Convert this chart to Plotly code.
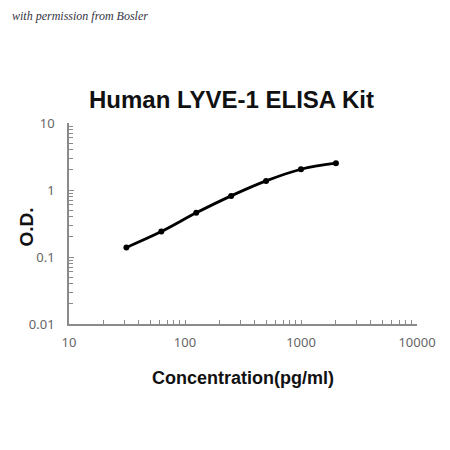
import plotly.graph_objects as go

# Standard curve data
conc = [31.25, 62.5, 125, 250, 500, 1000, 2000]
od = [0.139, 0.240, 0.456, 0.817, 1.366, 2.04, 2.51]

# Axis ticks
xTicks = [10, 100, 1000, 10000]
xTickText = ["10", "100", "1000", "10000"]
yTicks = [0.01, 0.1, 1, 10]
yTickText = ["0.01", "0.1", "1", "10"]

axisColor = "#8a8a8a"
tickFont = dict(family="Noto Sans", size=13, color="#666666")

fig = go.Figure()
fig.add_trace(go.Scatter(
    x=conc,
    y=od,
    mode="lines+markers",
    line=dict(color="black", width=2.8, shape="spline"),
    marker=dict(color="black", size=6),
    showlegend=False
))

# page body has an 8px margin, so the figure is 442 wide/high
fig.update_layout(
    width=442,
    height=442,
    paper_bgcolor="white",
    plot_bgcolor="white",
    margin=dict(l=61, r=33, t=115, b=126),
    title=dict(
        text="<b>Human LYVE-1 ELISA Kit</b>",
        x=(231.5 - 8) / 442,
        xanchor="center",
        y=1 - (100 - 8) / 442,
        yanchor="middle",
        font=dict(family="Liberation Sans", size=24, color="#111111")
    ),
    xaxis=dict(
        type="log",
        range=[1, 4],
        tickmode="array",
        tickvals=xTicks,
        ticktext=xTickText,
        tickfont=tickFont,
        ticks="inside",
        ticklen=4,
        tickcolor=axisColor,
        ticklabelstandoff=6,
        minor=dict(ticks="inside", ticklen=4, tickcolor=axisColor, dtick="D1", showgrid=False),
        showline=True,
        linecolor=axisColor,
        linewidth=1.5,
        showgrid=False,
        zeroline=False,
        title=dict(
            text="<b>Concentration(pg/ml)</b>",
            font=dict(family="Liberation Sans", size=18, color="#111111"),
            standoff=21
        )
    ),
    yaxis=dict(
        type="log",
        range=[-2, 1],
        tickmode="array",
        tickvals=yTicks,
        ticktext=yTickText,
        tickfont=tickFont,
        ticks="inside",
        ticklen=5,
        tickcolor=axisColor,
        ticklabelstandoff=10,
        minor=dict(ticks="inside", ticklen=4, tickcolor=axisColor, dtick="D1", showgrid=False),
        showline=True,
        linecolor=axisColor,
        linewidth=1.5,
        showgrid=False,
        zeroline=False
    )
)

# Y axis title placed by hand
fig.add_annotation(
    text="<b>O.D.</b>",
    xref="paper", yref="paper",
    x=-0.122, y=0.483,
    xanchor="center", yanchor="middle",
    textangle=-90,
    showarrow=False,
    font=dict(family="Liberation Sans", size=19, color="#111111")
)

# Watermark note
fig.add_annotation(
    text="with permission from Bosler",
    xref="paper", yref="paper",
    x=-0.17, y=1.53,
    xanchor="left", yanchor="middle",
    showarrow=False,
    font=dict(family="Liberation Serif", size=12, color="#333344", style="italic")
)

fig.write_html("out.html")
